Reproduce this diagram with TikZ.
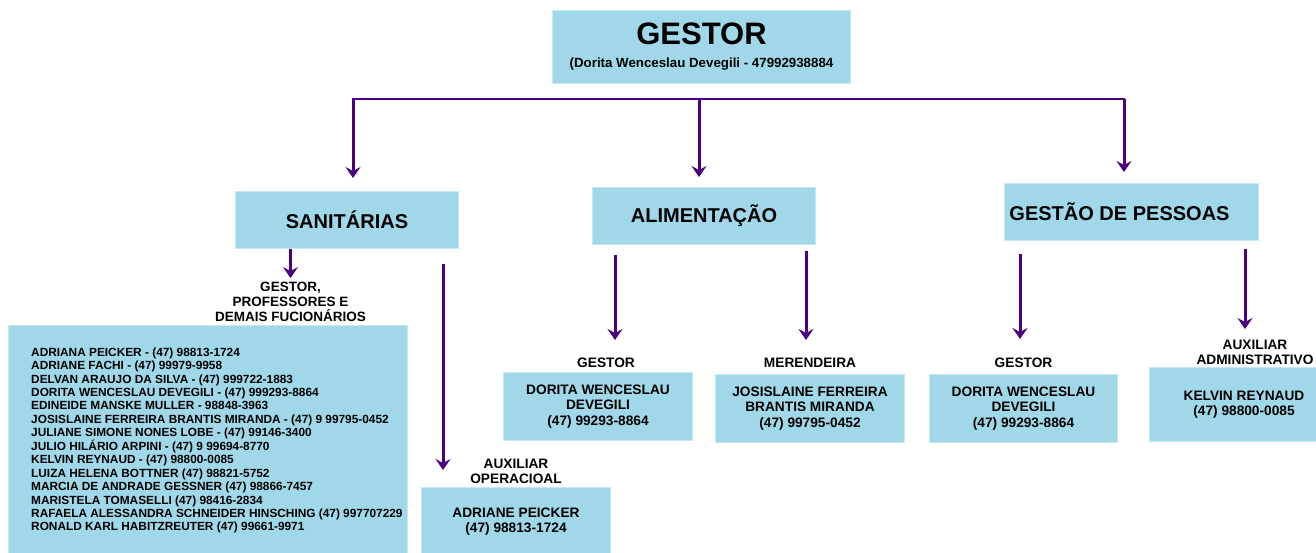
\documentclass[tikz,border=0pt]{standalone}
\usepackage{fontspec}
\setmainfont{Liberation Sans}
\usetikzlibrary{positioning,arrows.meta}
\definecolor{azulcx}{RGB}{160,216,234}
\definecolor{roxo}{RGB}{75,0,130}

\begin{document}
\begin{tikzpicture}[x=1pt,y=-1pt,
    caixa/.style={rectangle,fill=azulcx,draw=azulcx!60!white,line width=1pt,align=center,inner sep=0pt,
                  anchor=north west,font=\bfseries\fontsize{13.7}{15.5}\selectfont},
    setor/.style={caixa,minimum height=57pt,font=\bfseries\fontsize{20}{22}\selectfont},
    rotulo/.style={align=center,inner sep=0pt,font=\bfseries\fontsize{13.7}{15.5}\selectfont},
    linha/.style={draw=roxo,line width=2pt,line cap=rect},
    seta/.style={draw=roxo,line width=3pt,-{Stealth[length=11pt,width=15pt,inset=4pt]}}]

  \useasboundingbox (0,0) rectangle (1316,552);

  \node[caixa,minimum width=298pt,minimum height=73pt,font=\bfseries\fontsize{13.3}{15}\selectfont] (gestor) at (552,10)
       {{\fontsize{31}{34}\selectfont GESTOR}\\[8pt](Dorita Wenceslau Devegili - 47992938884};

  \node[setor,minimum width=223pt] (san) at (235,191) {SANITÁRIAS};
  \node[setor,minimum width=223pt] (ali) at (592,187) {ALIMENTAÇÃO};
  \node[setor,minimum width=254pt] (pes) at (1004,183) {GESTÃO DE PESSOAS\rule{24pt}{0pt}};

  \node[caixa,minimum width=399pt,minimum height=230pt] (lista) at (8,325) {};
  \node[rotulo,align=left,anchor=west,font=\bfseries\fontsize{11.85}{13.45}\selectfont] (nomes) at ([xshift=23pt]lista.west)
       {ADRIANA PEICKER - (47) 98813-1724\\
        ADRIANE FACHI - (47) 99979-9958\\
        DELVAN ARAUJO DA SILVA - (47) 999722-1883\\
        DORITA WENCESLAU DEVEGILI - (47) 999293-8864\\
        EDINEIDE MANSKE MULLER - 98848-3963\\
        JOSISLAINE FERREIRA BRANTIS MIRANDA - (47) 9 99795-0452\\
        JULIANE SIMONE NONES LOBE - (47) 99146-3400\\
        JULIO HILÁRIO ARPINI - (47) 9 99694-8770\\
        KELVIN REYNAUD - (47) 98800-0085\\
        LUIZA HELENA BOTTNER (47) 98821-5752\\
        MARCIA DE ANDRADE GESSNER (47) 98866-7457\\
        MARISTELA TOMASELLI (47) 98416-2834\\
        RAFAELA ALESSANDRA SCHNEIDER HINSCHING (47) 997707229\\
        RONALD KARL HABITZREUTER (47) 99661-9971};

  \node[caixa,minimum width=189pt,minimum height=68pt] (auxop) at (421,487) {ADRIANE PEICKER\\(47) 98813-1724};
  \node[caixa,minimum width=189pt,minimum height=68pt] (dor1) at (503,372) {DORITA WENCESLAU\\DEVEGILI\\(47) 99293-8864};
  \node[caixa,minimum width=189pt,minimum height=68pt] (jos) at (715,374) {JOSISLAINE FERREIRA\\BRANTIS MIRANDA\\(47) 99795-0452};
  \node[caixa,minimum width=188pt,minimum height=68pt] (dor2) at (929,374) {DORITA WENCESLAU\\DEVEGILI\\(47) 99293-8864};
  \node[caixa,minimum width=189pt,minimum height=74pt] (kel) at (1149,367) {KELVIN REYNAUD\\(47) 98800-0085};

  \node[rotulo,font=\bfseries\fontsize{13.5}{15}\selectfont,above=3pt of lista,xshift=82.5pt] (lgp) {GESTOR,\\PROFESSORES E\\DEMAIS FUCIONÁRIOS};
  \node[rotulo,above=3pt of auxop] (laop) {AUXILIAR\\OPERACIOAL};
  \node[rotulo,above=4pt of dor1,xshift=8pt] (lg1) {GESTOR};
  \node[rotulo,above=6pt of jos] (lme) {MERENDEIRA};
  \node[rotulo,above=6pt of dor2] (lg2) {GESTOR};
  \node[rotulo,above=2pt of kel,xshift=11pt] (lad) {AUXILIAR\\ADMINISTRATIVO};

  \coordinate (b1) at (353,98.5);
  \coordinate (b2) at (699,98.5);
  \coordinate (b3) at (1124,98.5);
  \coordinate (t1) at (443,470);
  \coordinate (t2) at (615,340);
  \coordinate (t3) at (806,340);
  \coordinate (t4) at (1020,339);
  \coordinate (t5) at (1245,329);

  \draw[linha] (b1) -- (b3);
  \draw[seta,shorten >=13pt] (b1) -- (b1 |- san.north);
  \draw[seta,shorten >=10pt] (b2) -- (b2 |- ali.north);
  \draw[seta,shorten >=11pt] (b3) -- (b3 |- pes.north);

  \draw[seta,shorten >=4pt] (lgp.north |- san.south) -- (lgp.north);
  \draw[seta,shorten <=15pt] (t1 |- san.south) -- (t1);
  \draw[seta,shorten <=10pt] (t2 |- ali.south) -- (t2);
  \draw[seta,shorten <=6pt] (t3 |- ali.south) -- (t3);
  \draw[seta,shorten <=13pt] (t4 |- pes.south) -- (t4);
  \draw[seta,shorten <=8pt] (t5 |- pes.south) -- (t5);

\end{tikzpicture}
\end{document}
